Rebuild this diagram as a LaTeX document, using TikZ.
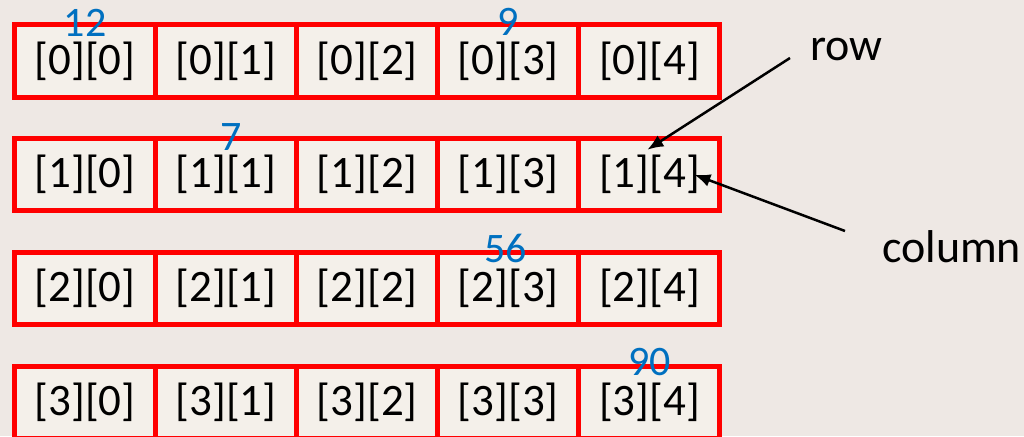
\documentclass[tikz,border=0pt]{standalone}
\usepackage{fontspec}
\setmainfont{Carlito}
\usetikzlibrary{arrows.meta}

\definecolor{boxred}{RGB}{255,0,0}
\definecolor{valblue}{RGB}{0,112,192}
\definecolor{paper}{RGB}{238,232,228}
\definecolor{cellfill}{RGB}{244,240,234}

\begin{document}
\begin{tikzpicture}[x=1pt, y=-1pt,
    cell/.style={draw=boxred, fill=cellfill, line width=5pt, minimum width=141pt,
        minimum height=72pt, inner sep=0pt, outer sep=0pt, font=\fontsize{45}{50}\selectfont},
    val/.style={text=valblue, anchor=base, inner sep=0pt, text depth=0pt,
        font=\fontsize{42}{46}\selectfont},
    note/.style={inner sep=0pt, font=\fontsize{46}{50}\selectfont},
    pointer/.style={-{Latex[length=16pt,width=13pt]}, line width=2.5pt}]

    % Background
    \fill[paper] (0,0) rectangle (1024,436);
    \useasboundingbox (0,0) rectangle (1024,436);

    % Cells
    \foreach \r in {0,...,3}
      \foreach \c in {0,...,4}
        \node[cell] (c\r\c) at (85+141.1*\c, 61+113.7*\r) {[\r][\c]};

    % Values
    \node[val] at ([yshift=-12pt]c00.north) {12};
    \node[val] at ([yshift=-11pt]c03.north) {9};
    \node[val] at ([xshift=5pt,yshift=-12pt]c11.north) {7};
    \node[val] at ([xshift=-3pt,yshift=-10pt]c23.north) {56};
    \node[val] at ([yshift=-9pt]c34.north) {90};

    % Labels
    \node[note, anchor=base west] (row) at (810,60) {row};
    \node[note, anchor=base west] (column) at (882,262) {column};

    % Arrows
    \draw[pointer] ([xshift=-20pt,yshift=2pt]row.base west) -- ([xshift=-2pt,yshift=25pt]c14.center);
    \draw[pointer] ([xshift=-37pt,yshift=31pt]column.base west) -- ([xshift=45pt]c14.center);

\end{tikzpicture}
\end{document}
